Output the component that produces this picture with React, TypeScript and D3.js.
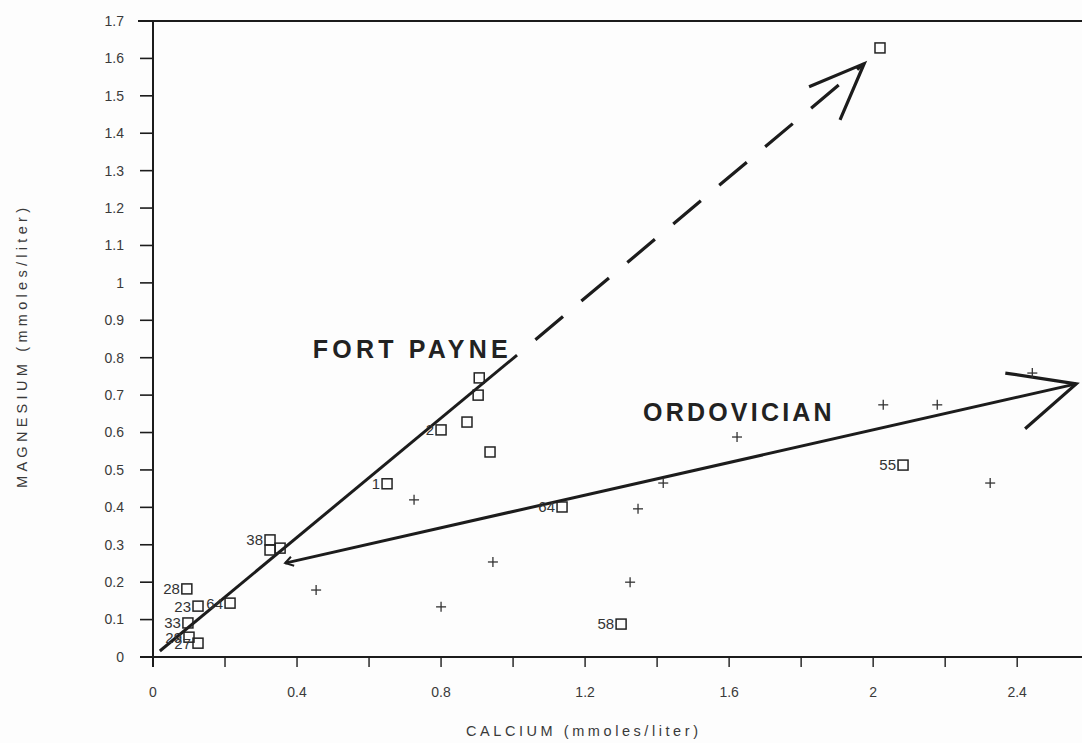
import React from "react";
import * as d3 from "d3";

// ---- data ----
const squareX = [2.019, 0.906, 0.903, 0.872, 0.8, 0.936, 0.65, 1.136, 2.083, 1.3, 0.325, 0.353, 0.325, 0.094, 0.125, 0.214, 0.097, 0.1, 0.125];
const squareY = [1.628, 0.746, 0.7, 0.628, 0.607, 0.548, 0.463, 0.401, 0.513, 0.088, 0.313, 0.291, 0.286, 0.182, 0.136, 0.144, 0.091, 0.053, 0.037];
const squareLabels = ["", "", "", "", "2", "", "1", "64", "55", "58", "38", "", "", "28", "23", "64", "33", "29", "27"];

const plusX = [0.725, 0.453, 0.8, 0.944, 1.325, 1.347, 1.417, 1.622, 2.028, 2.178, 2.442, 2.325];
const plusY = [0.42, 0.179, 0.134, 0.254, 0.2, 0.396, 0.465, 0.588, 0.674, 0.674, 0.759, 0.465];

const yTicks = [0, 0.1, 0.2, 0.3, 0.4, 0.5, 0.6, 0.7, 0.8, 0.9, 1, 1.1, 1.2, 1.3, 1.4, 1.5, 1.6, 1.7];
const xTicks = [0, 0.2, 0.4, 0.6, 0.8, 1, 1.2, 1.4, 1.6, 1.8, 2, 2.2, 2.4];
const xTickLabels = [0, 0.4, 0.8, 1.2, 1.6, 2, 2.4];

const fortPayneSolid: [number, number][] = [[0.019, 0.016], [1.011, 0.807]];
const fortPayneDashed: [number, number][] = [[1.011, 0.807], [1.975, 1.586]];
const fortPayneHead: [number, number][] = [[1.822, 1.524], [1.975, 1.586], [1.908, 1.436]];
const ordovicianLine: [number, number][] = [[0.367, 0.251], [2.564, 0.73]];
const ordovicianHead: [number, number][] = [[2.367, 0.759], [2.564, 0.73], [2.422, 0.61]];
const ordovicianTail: [number, number][] = [[0.383, 0.268], [0.367, 0.251], [0.392, 0.244]];

const annotations = [
  { text: "FORT PAYNE", x: 0.444, y: 0.8, spacing: 4.2 },
  { text: "ORDOVICIAN", x: 1.361, y: 0.631, spacing: 3.2 },
];

const W = 1082;
const H = 743;

export default function App() {
  const x = d3.scaleLinear().domain([0, 2.58]).range([153, 1082]);
  const y = d3.scaleLinear().domain([0, 1.7]).range([657, 21]);
  const line = d3.line<[number, number]>().x((d) => x(d[0])).y((d) => y(d[1]));
  const fmt = d3.format("~g");
  const ink = "#1c1c1c";
  const font = "Liberation Sans, Arial, Helvetica, sans-serif";

  return (
    <svg
      width={W}
      height={H}
      style={{ position: "absolute", left: 0, top: 0, background: "#fdfdfd" }}
      fontFamily={font}
    >
      <rect x={0} y={0} width={W} height={H} fill="#fdfdfd" />
      {/* frame / axes */}
      <line x1={138} x2={W} y1={y(1.7)} y2={y(1.7)} stroke={ink} strokeWidth={2} />
      <line x1={x(0)} x2={x(0)} y1={y(1.7)} y2={y(0) + 10} stroke={ink} strokeWidth={2} />
      <line x1={140} x2={W} y1={y(0)} y2={y(0)} stroke={ink} strokeWidth={2} />

      {yTicks.map((t) => (
        <g key={"y" + t}>
          <line x1={x(0) - 13} x2={x(0)} y1={y(t)} y2={y(t)} stroke={ink} strokeWidth={1.6} />
          <text x={124} y={y(t)} dy="0.35em" textAnchor="end" fontSize={14} fill="#3a3a3a">
            {fmt(t)}
          </text>
        </g>
      ))}
      {xTicks.map((t) => (
        <line key={"x" + t} x1={x(t)} x2={x(t)} y1={y(0)} y2={y(0) + 10} stroke={ink} strokeWidth={1.4} />
      ))}
      {xTickLabels.map((t) => (
        <text key={"xl" + t} x={x(t)} y={697} textAnchor="middle" fontSize={14} fill="#3a3a3a">
          {fmt(t)}
        </text>
      ))}

      {/* axis titles */}
      <text
        x={582}
        y={736}
        textAnchor="middle"
        fontSize={14.5}
        fill="#3a3a3a"
        textLength={232}
        lengthAdjust="spacing"
      >
        CALCIUM (mmoles/liter)
      </text>
      <text
        transform="translate(27,348) rotate(-90)"
        textAnchor="middle"
        fontSize={14.5}
        fill="#3a3a3a"
        textLength={280}
        lengthAdjust="spacing"
      >
        MAGNESIUM  (mmoles/liter)
      </text>

      {/* trend arrows */}
      <path d={line(fortPayneSolid) || ""} stroke={ink} strokeWidth={3} fill="none" />
      <path
        d={line(fortPayneDashed) || ""}
        stroke={ink}
        strokeWidth={3.2}
        fill="none"
        strokeDasharray="36 24"
        strokeDashoffset={36}
      />
      <path d={line(fortPayneHead) || ""} stroke={ink} strokeWidth={3.2} fill="none" strokeLinejoin="miter" />
      <path d={line(ordovicianLine) || ""} stroke={ink} strokeWidth={3} fill="none" />
      <path d={line(ordovicianHead) || ""} stroke={ink} strokeWidth={3.2} fill="none" />
      <path d={line(ordovicianTail) || ""} stroke={ink} strokeWidth={2} fill="none" />

      {/* squares */}
      {squareX.map((vx, i) => (
        <g key={"s" + i}>
          <rect
            x={x(vx) - 5}
            y={y(squareY[i]) - 5}
            width={10}
            height={10}
            fill="none"
            stroke="#222"
            strokeWidth={1.5}
          />
          {squareLabels[i] && (
            <text
              x={x(vx) - 7}
              y={y(squareY[i])}
              dy="0.36em"
              textAnchor="end"
              fontSize={15}
              fill="#333"
            >
              {squareLabels[i]}
            </text>
          )}
        </g>
      ))}

      {/* plus markers */}
      {plusX.map((vx, i) => {
        const cx = x(vx);
        const cy = y(plusY[i]);
        return (
          <g key={"p" + i} stroke="#333" strokeWidth={1.3}>
            <line x1={cx - 5} x2={cx + 5} y1={cy} y2={cy} />
            <line x1={cx} x2={cx} y1={cy - 5} y2={cy + 5} />
          </g>
        );
      })}

      {/* annotations */}
      {annotations.map((a) => (
        <text
          key={a.text}
          x={x(a.x)}
          y={y(a.y)}
          fontSize={25}
          fontWeight="bold"
          letterSpacing={a.spacing}
          fill="#222"
        >
          {a.text}
        </text>
      ))}
    </svg>
  );
}
